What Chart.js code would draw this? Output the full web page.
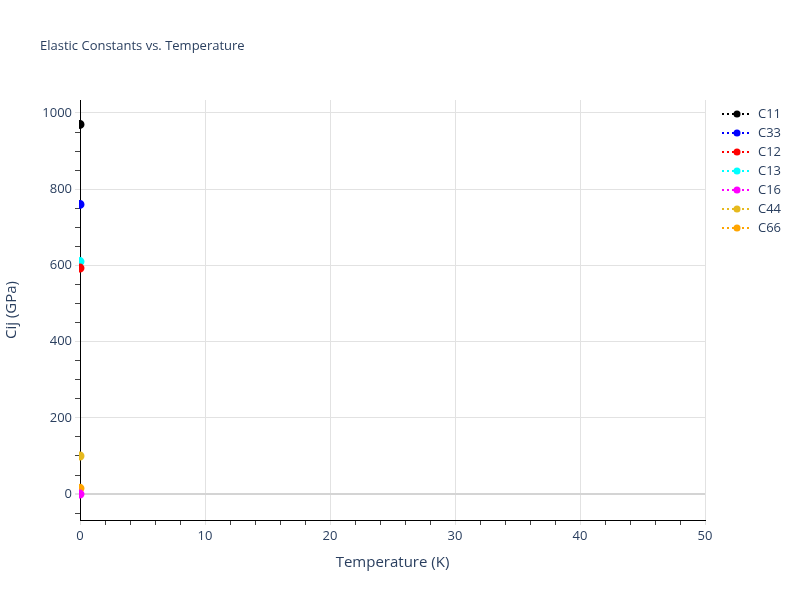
<!DOCTYPE html>
<html>
<head>
<meta charset="utf-8">
<script src="https://cdn.jsdelivr.net/npm/chart.js@4/dist/chart.umd.min.js"></script>
<style>
  html, body { margin: 0; padding: 0; background: #fff; }
  #wrap { width: 800px; height: 600px; }
</style>
</head>
<body>
<div id="wrap"><canvas id="myChart" width="800" height="600"></canvas></div>
<script>
// temperatures (K) and the constants (GPa)
const temperatures = [0];
const seriesNames = ['C11', 'C33', 'C12', 'C13', 'C16', 'C44', 'C66'];
const c11 = [970];
const c33 = [760];
const c12 = [593];
const c13 = [610];
const c16 = [0];
const c44 = [100];
const c66 = [15];
const seriesColors = ['#000000', '#0000ff', '#ff0000', '#00ffff', '#ff00ff', '#e6b91e', '#ffa500'];

const textColor = '#2a3f5f';
const gridColor = '#e2e2e2';
const fontFamily = '"Open Sans", "DejaVu Sans", sans-serif';

function stepTicks(from, to, step) {
    const out = [];
    for (let v = from; v <= to; v += step) out.push({ value: v });
    return out;
}

function makeGraphic() {
    const canvasContext = document.getElementById('myChart').getContext('2d');
    const values = [c11, c33, c12, c13, c16, c44, c66];

    const datasets = seriesNames.map((name, i) => ({
        label: name,
        data: temperatures.map((t, j) => ({ x: t, y: values[i][j] })),
        borderColor: seriesColors[i],
        backgroundColor: seriesColors[i],
        borderDash: [2, 3],
        borderWidth: 2,
        pointRadius: 3.5,
        pointHoverRadius: 3.5,
        showLine: true,
        clip: 1,
    }));

    // title + legend drawn by hand so they sit where plotly put them
    const extras = {
        id: 'extras',
        afterDraw(chart) {
            const ctx = chart.ctx;
            ctx.save();
            ctx.fillStyle = textColor;
            ctx.font = '13px ' + fontFamily;
            ctx.textBaseline = 'middle';
            ctx.textAlign = 'left';
            ctx.fillText('Elastic Constants vs. Temperature', 40, 46);

            chart.data.datasets.forEach((ds, i) => {
                const y = 114 + i * 19;
                ctx.strokeStyle = ds.borderColor;
                ctx.lineWidth = 2;
                ctx.setLineDash([2, 3]);
                ctx.beginPath();
                ctx.moveTo(722, y);
                ctx.lineTo(752, y);
                ctx.stroke();
                ctx.setLineDash([]);
                ctx.fillStyle = ds.backgroundColor;
                ctx.beginPath();
                ctx.arc(737, y, 3.5, 0, Math.PI * 2);
                ctx.fill();
                ctx.fillStyle = textColor;
                ctx.fillText(ds.label, 758, y);
            });
            ctx.restore();
        }
    };

    const config = {
        type: 'scatter',
        data: { datasets: datasets },
        options: {
            responsive: false,
            animation: false,
            layout: { padding: { left: 0, top: 100, right: 95, bottom: 0 } },
            plugins: {
                legend: { display: false },
                title: { display: false },
                tooltip: { enabled: false },
            },
            scales: {
                x: {
                    type: 'linear',
                    min: 0,
                    max: 50,
                    afterBuildTicks: (scale) => { scale.ticks = stepTicks(0, 50, 2); },
                    afterFit: (scale) => { scale.height = 80; },
                    ticks: {
                        autoSkip: false,
                        maxRotation: 0,
                        color: textColor,
                        font: { family: fontFamily, size: 13 },
                        padding: 3,
                        callback: (v) => (v % 10 === 0 ? v : ''),
                    },
                    grid: {
                        color: (c) => (c.tick && c.tick.value % 10 === 0 && c.tick.value !== 0 ? gridColor : 'rgba(0,0,0,0)'),
                        tickColor: (c) => (c.tick && c.tick.value % 10 === 0 ? gridColor : '#444'),
                        tickLength: 5,
                        lineWidth: 1,
                    },
                    border: { color: '#000', width: 1 },
                    title: {
                        display: true,
                        text: 'Temperature (K)',
                        color: textColor,
                        font: { family: fontFamily, size: 15 },
                        padding: { top: 0, bottom: 28 },
                    },
                },
                y: {
                    type: 'linear',
                    min: -68,
                    max: 1034,
                    afterBuildTicks: (scale) => { scale.ticks = stepTicks(-50, 1000, 50); },
                    afterFit: (scale) => { scale.width = 80; },
                    ticks: {
                        autoSkip: false,
                        color: textColor,
                        font: { family: fontFamily, size: 13 },
                        padding: 3,
                        callback: (v) => (v % 200 === 0 ? v : ''),
                    },
                    grid: {
                        color: (c) => {
                            if (!c.tick) return 'rgba(0,0,0,0)';
                            if (c.tick.value === 0) return '#d4d4d4';
                            return c.tick.value % 200 === 0 ? gridColor : 'rgba(0,0,0,0)';
                        },
                        lineWidth: (c) => (c.tick && c.tick.value === 0 ? 2 : 1),
                        tickColor: (c) => (c.tick && c.tick.value % 200 === 0 ? gridColor : '#444'),
                        tickLength: 5,
                    },
                    border: { color: '#000', width: 1 },
                    title: {
                        display: true,
                        text: 'Cij (GPa)',
                        color: textColor,
                        font: { family: fontFamily, size: 15 },
                        padding: { top: 3, bottom: 0 },
                    },
                },
            },
        },
        plugins: [extras],
    };

    new Chart(canvasContext, config);
}
makeGraphic();
</script>
</body>
</html>
